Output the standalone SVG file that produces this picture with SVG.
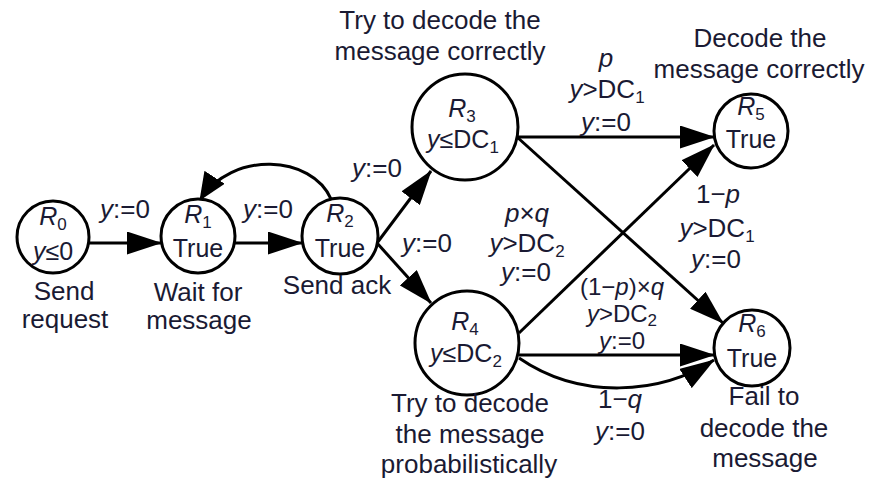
<svg xmlns="http://www.w3.org/2000/svg" width="883" height="482" viewBox="0 0 883 482">
<style>
text{font-family:"Liberation Sans",Arial,sans-serif;font-size:26px;fill:#1a1a33;text-anchor:middle}
.in{font-size:25px}
.sm{font-size:24px}
.i{font-style:italic}
.sub{font-size:17px}
circle{fill:#fff;stroke:#000;stroke-width:3}
.edge{fill:none;stroke:#000;stroke-width:3}
</style>
<defs>
<marker id="ah" markerUnits="userSpaceOnUse" viewBox="0 0 35 23" markerWidth="35" markerHeight="23" refX="34" refY="11.5" orient="auto">
<path d="M0,0 L35,11.5 L0,23 z" fill="#000"/>
</marker>
<marker id="ahs" markerUnits="userSpaceOnUse" viewBox="0 0 28 24" markerWidth="28" markerHeight="24" refX="27" refY="12" orient="auto">
<path d="M0,0 L28,12 L0,24 z" fill="#000"/>
</marker>
</defs>
<g id="connectors">
<path class="edge" d="M89 243 L161 243" marker-end="url(#ah)"/>
<path class="edge" d="M235 243 L302 243" marker-end="url(#ah)"/>
<path class="edge" d="M331 199 C312 155 232 150 200 200" marker-end="url(#ahs)"/>
<path class="edge" d="M377 243 L431 171" marker-end="url(#ah)"/>
<path class="edge" d="M377 243 L431 303" marker-end="url(#ah)"/>
<path class="edge" d="M517 137 L714 137" marker-end="url(#ah)"/>
<path class="edge" d="M517 137 L723 323" marker-end="url(#ah)"/>
<path class="edge" d="M519 333 L714 145" marker-end="url(#ah)"/>
<path class="edge" d="M519 355 L714 355" marker-end="url(#ah)"/>
<path class="edge" d="M519 358 C580 400 660 395 714 360" marker-end="url(#ah)"/>
<text x="125" y="218"><tspan class="i">y</tspan>:=0</text>
<text x="268" y="218"><tspan class="i">y</tspan>:=0</text>
<text x="377" y="177"><tspan class="i">y</tspan>:=0</text>
<text x="427" y="252"><tspan class="i">y</tspan>:=0</text>
<text x="606" y="67" class="i">p</text>
<text x="607" y="98"><tspan class="i">y</tspan>&gt;DC<tspan class="sub" dy="5">1</tspan></text>
<text x="606" y="131"><tspan class="i">y</tspan>:=0</text>
<text x="527" y="222"><tspan class="i">p</tspan>×<tspan class="i">q</tspan></text>
<text x="527" y="252"><tspan class="i">y</tspan>&gt;DC<tspan class="sub" dy="5">2</tspan></text>
<text x="526" y="281"><tspan class="i">y</tspan>:=0</text>
<text x="718" y="203">1−<tspan class="i">p</tspan></text>
<text x="717" y="237"><tspan class="i">y</tspan>&gt;DC<tspan class="sub" dy="5">1</tspan></text>
<text x="716" y="268"><tspan class="i">y</tspan>:=0</text>
<text class="sm" x="622" y="295">(1−<tspan class="i">p</tspan>)×<tspan class="i">q</tspan></text>
<text class="sm" x="622" y="322"><tspan class="i">y</tspan>&gt;DC<tspan class="sub" dy="4">2</tspan></text>
<text class="sm" x="622" y="349"><tspan class="i">y</tspan>:=0</text>
<text x="620" y="408">1−<tspan class="i">q</tspan></text>
<text x="620" y="440"><tspan class="i">y</tspan>:=0</text>
</g>
<g id="R0">
<circle cx="53" cy="237" r="36"/>
<text class="in" x="53" y="225"><tspan class="i">R</tspan><tspan class="sub" dy="5">0</tspan></text>
<text class="in" x="53" y="260"><tspan class="i">y</tspan>≤0</text>
<text x="64" y="300">Send</text>
<text x="65" y="328">request</text>
</g>
<g id="R1">
<circle cx="198" cy="236" r="37"/>
<text class="in" x="198" y="223"><tspan class="i">R</tspan><tspan class="sub" dy="5">1</tspan></text>
<text class="in" x="198" y="257">True</text>
<text x="198" y="301">Wait for</text>
<text x="199" y="329">message</text>
</g>
<g id="R2">
<circle cx="340" cy="236" r="38"/>
<text class="in" x="340" y="222"><tspan class="i">R</tspan><tspan class="sub" dy="5">2</tspan></text>
<text class="in" x="340" y="257">True</text>
<text x="337" y="294">Send ack</text>
</g>
<g id="R3">
<circle cx="465" cy="127" r="53"/>
<text class="in" x="462" y="117"><tspan class="i">R</tspan><tspan class="sub" dy="5">3</tspan></text>
<text class="in" x="463" y="148"><tspan class="i">y</tspan>≤DC<tspan class="sub" dy="5">1</tspan></text>
<text x="440" y="29">Try to decode the</text>
<text x="440" y="60">message correctly</text>
</g>
<g id="R4">
<circle cx="467" cy="343" r="52"/>
<text class="in" x="465" y="330"><tspan class="i">R</tspan><tspan class="sub" dy="5">4</tspan></text>
<text class="in" x="466" y="362"><tspan class="i">y</tspan>≤DC<tspan class="sub" dy="5">2</tspan></text>
<text x="470" y="412">Try to decode</text>
<text x="470" y="443">the message</text>
<text x="469" y="473">probabilistically</text>
</g>
<g id="R5">
<circle cx="751" cy="131" r="37"/>
<text class="in" x="751" y="115"><tspan class="i">R</tspan><tspan class="sub" dy="5">5</tspan></text>
<text class="in" x="751" y="148">True</text>
<text x="760" y="47">Decode the</text>
<text x="759" y="78">message correctly</text>
</g>
<g id="R6">
<circle cx="752" cy="348" r="38"/>
<text class="in" x="752" y="332"><tspan class="i">R</tspan><tspan class="sub" dy="5">6</tspan></text>
<text class="in" x="752" y="367">True</text>
<text x="764" y="405">Fail to</text>
<text x="764" y="437">decode the</text>
<text x="765" y="467">message</text>
</g>
</svg>
